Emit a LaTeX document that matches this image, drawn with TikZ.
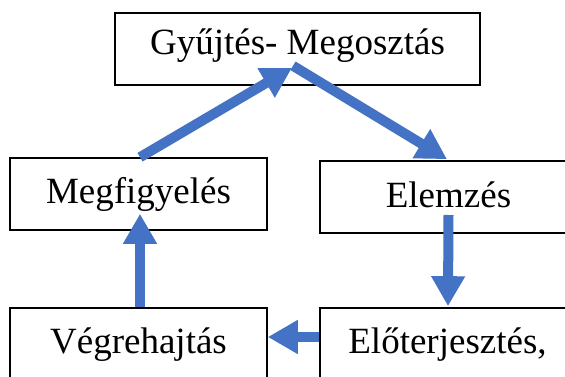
\documentclass[tikz,border=0pt]{standalone}
\usepackage{fontspec}
\setmainfont{Liberation Serif}
\usetikzlibrary{arrows.meta,calc}
\definecolor{arrowblue}{HTML}{4472C4}
\tikzset{
  stagebox/.style={draw=black, line width=1.6pt, inner sep=0pt,
    minimum height=72pt, text height=26pt, text depth=8pt,
    font=\fontsize{37}{44}\selectfont},
  flowarrow/.style={draw=arrowblue, line width=10pt,
    -{Triangle[width=32pt,length=30pt]}}
}
\begin{document}
\begin{tikzpicture}[x=1pt,y=-1pt]
\useasboundingbox (0,0) rectangle (565,377);
\clip (0,0) rectangle (565,377);
\node[stagebox, minimum width=365pt, text height=22pt, text depth=10pt] (top) at (297.5,49) {Gyűjtés- Megosztás};
\node[stagebox, minimum width=257pt] (obs) at (138.5,194) {Megfigyelés};
\node[stagebox, minimum width=257pt, text height=28pt, text depth=8pt] (ana) at (448.5,197) {Elemzés};
\node[stagebox, minimum width=257pt] (exe) at (138.5,344) {Végrehajtás};
\node[stagebox, minimum width=255pt] (pro) at (447.5,344) {Előterjesztés,};
\draw[flowarrow] ($(obs.north)+(1.5,0)$) -- ($(top.south)+(-5.5,-18)$);
\draw[flowarrow] ($(top.south)+(-4.5,-20)$) -- ($(ana.north)+(-1.5,-1)$);
\draw[flowarrow] ($(ana.center)+(0,18)$) -- ($(pro.north)+(0.5,-1)$);
\draw[flowarrow] ($(pro.west)+(0,-7)$) -- ($(exe.east)+(0,-7)$);
\draw[flowarrow] ($(exe.north)+(1.5,0)$) -- ($(obs.south)+(1.5,-17)$);
\end{tikzpicture}
\end{document}
